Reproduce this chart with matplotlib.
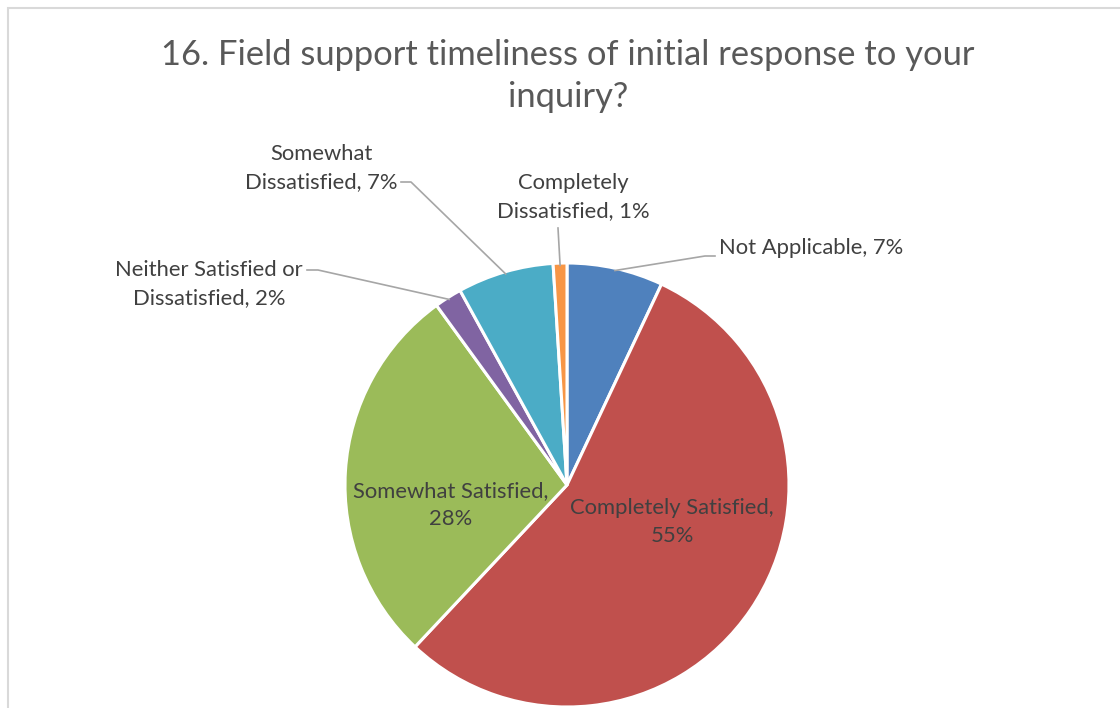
import numpy as np
import matplotlib.pyplot as plt
from matplotlib.patches import Rectangle

labels = ['Not Applicable', 'Completely Satisfied', 'Somewhat Satisfied',
          'Neither Satisfied or Dissatisfied', 'Somewhat Dissatisfied',
          'Completely Dissatisfied']
values = [7, 55, 28, 2, 7, 1]
colors = ['#4F81BD', '#C0504D', '#9BBB59', '#8064A2', '#4BACC6', '#F79646']
title = '16. Field support timeliness of initial response to your\ninquiry?'

plt.rcParams['font.family'] = ['Lato', 'DejaVu Sans']

W, H = 1120, 708
fig = plt.figure(figsize=(W / 100, H / 100), dpi=100)
ax = fig.add_axes([0, 0, 1, 1])

# chart border (cut by the image at right and bottom)
fig.patches.append(Rectangle((8 / W, -0.1), 1.2, 1.1 - 7.5 / H, transform=fig.transFigure,
                             fill=False, edgecolor='#D9D9D9', linewidth=1.5))

cx, cy, r = 567, H - 485, 222
ax.pie(values, colors=colors, startangle=90, counterclock=False,
       center=(cx, cy), radius=r,
       wedgeprops=dict(edgecolor='white', linewidth=2.2))
ax.set_xlim(0, W)
ax.set_ylim(0, H)
ax.set_aspect('equal')
ax.axis('off')

txt = '#404040'
fs = 15.8
ls = 1.5

def img(x, y):
    return x, H - y

# mid angle of each slice, for the leader lines
cum = np.cumsum([0] + values)
mids = [90 - (cum[i] + values[i] / 2) / 100 * 360 for i in range(len(values))]

def edge(i, k=0.99):
    a = np.radians(mids[i])
    return cx + r * k * np.cos(a), cy + r * k * np.sin(a)

# inside labels
ax.text(*img(672, 522), f'{labels[1]},\n{values[1]}%', ha='center', va='center',
        fontsize=fs, color=txt, linespacing=ls)
ax.text(*img(451, 505), f'{labels[2]},\n{values[2]}%', ha='center', va='center',
        fontsize=fs, color=txt, linespacing=ls)

# outside labels with leader lines
line_c = '#A6A6A6'
outside = [
    (0, (811, 248), f'{labels[0]}, {values[0]}%', [(715, 256), (705, 256)]),
    (3, (209, 284), 'Neither Satisfied or\nDissatisfied, 2%', [(307, 270), (318, 270)]),
    (4, (321, 168), 'Somewhat\nDissatisfied, 7%', [(401, 182), (411, 182)]),
    (5, (573, 197), 'Completely\nDissatisfied, 1%', [(558, 228)]),
]
for i, pos, s, pts in outside:
    ax.text(*img(*pos), s, ha='center', va='center', fontsize=fs, color=txt,
            linespacing=ls)
    path = [img(*p) for p in pts] + [edge(i)]
    xs, ys = zip(*path)
    ax.plot(xs, ys, color=line_c, linewidth=1.2)

ax.text(*img(568, 76), title, ha='center', va='center', fontsize=24.8,
        color='#595959', linespacing=1.38)

fig.savefig('out.png', dpi=100)
